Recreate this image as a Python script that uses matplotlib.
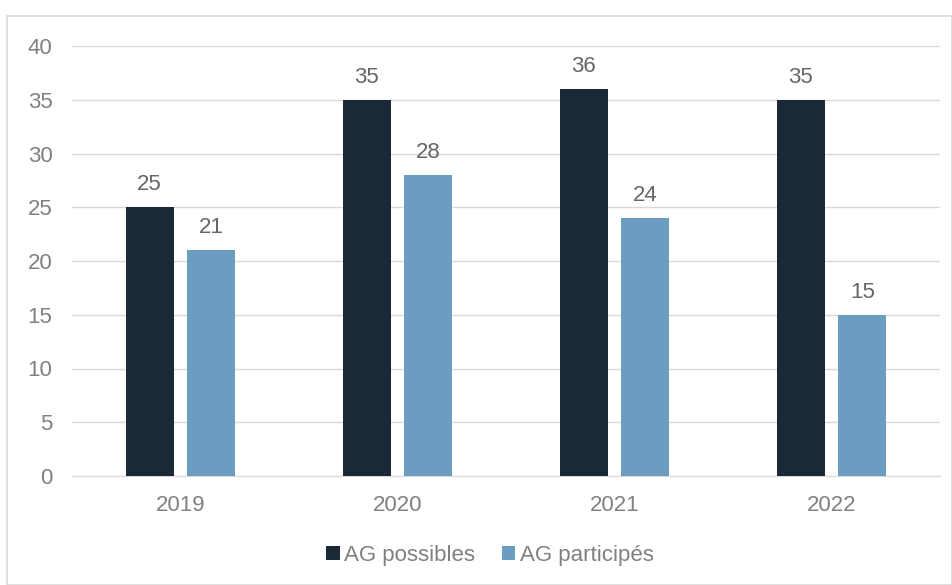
import numpy as np
import matplotlib.pyplot as plt
from matplotlib.patches import Rectangle

plt.rcParams['font.family'] = ['Liberation Sans', 'DejaVu Sans']

# données
annees = ['2019', '2020', '2021', '2022']
ag_possibles = [25, 35, 36, 35]
ag_participes = [21, 28, 24, 15]

c_dark = '#1b2836'
c_light = '#6a9dbf'
c_text = '#808080'
fs = 16

fig = plt.figure(figsize=(9.53, 5.85), dpi=100)
fig.patches.append(Rectangle((7 / 953, 0), 1 - 8 / 953, 1 - 16 / 585, transform=fig.transFigure,
                             fill=False, edgecolor='#d9d9d9', linewidth=1.2))
ax = fig.add_axes([72 / 953, 1 - 476 / 585, 868 / 953, 430 / 585])

x = np.arange(len(annees))
w = 0.22
b1 = ax.bar(x - 0.142, ag_possibles, w, color=c_dark, label='AG possibles', zorder=3)
b2 = ax.bar(x + 0.142, ag_participes, w, color=c_light, label='AG participés', zorder=3)

for bars in (b1, b2):
    for r in bars:
        ax.text(r.get_x() + r.get_width() / 2, r.get_height() + 1.1, f'{int(r.get_height())}',
                ha='center', va='bottom', fontsize=fs, color='#666666')

ax.set_xlim(-0.5, 3.5)
ax.set_ylim(0, 40)
ax.set_yticks(range(0, 41, 5))
ax.set_xticks(x)
ax.set_xticklabels(annees)
ax.tick_params(axis='both', length=0, labelsize=fs, labelcolor=c_text)
ax.tick_params(axis='x', pad=14)
ax.tick_params(axis='y', pad=14)
ax.grid(axis='y', color='#d9d9d9', linewidth=1, zorder=0)
for s in ['top', 'right', 'left']:
    ax.spines[s].set_visible(False)
ax.spines['bottom'].set_color('#d9d9d9')

leg = fig.legend(loc='center', bbox_to_anchor=(490 / 953, 1 - 555 / 585), ncol=2, frameon=False,
                 fontsize=fs, handlelength=0.6, handleheight=0.6, handletextpad=0.2, columnspacing=1.2)
for t in leg.get_texts():
    t.set_color(c_text)

fig.savefig('out.png', dpi=100)
